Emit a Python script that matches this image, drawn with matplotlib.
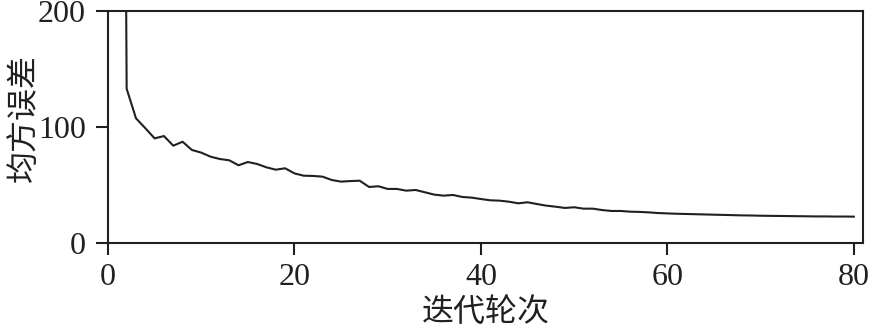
import matplotlib
matplotlib.use("Agg")
import matplotlib.pyplot as plt

# MSE per training epoch
epochs = list(range(1, 81))
mse = [
    1500.0, 133.0, 107.5, 99.0, 90.2, 92.2, 83.9, 87.3, 80.2, 77.9,
    74.4, 72.4, 71.3, 67.0, 69.8, 68.1, 65.2, 63.2, 64.4, 60.0,
    58.0, 57.8, 57.2, 54.3, 52.9, 53.4, 53.7, 48.3, 48.9, 46.6,
    46.6, 45.1, 45.7, 43.7, 41.7, 40.8, 41.4, 39.7, 39.1, 37.9,
    36.8, 36.5, 35.6, 34.2, 35.1, 33.6, 32.2, 31.3, 30.2, 30.8,
    29.6, 29.6, 28.4, 27.6, 27.6, 27.0, 26.8, 26.4, 25.8, 25.5,
    25.2, 25.0, 24.8, 24.6, 24.4, 24.2, 24.0, 23.8, 23.7, 23.5,
    23.4, 23.3, 23.2, 23.1, 23.0, 22.9, 22.9, 22.8, 22.8, 22.7,
]
xticks = [0, 20, 40, 60, 80]
yticks = [0, 100, 200]

ink = "#231f20"
fig = plt.figure(figsize=(8.71, 3.34), dpi=100)
ax = fig.add_axes([0.124, 0.2725, 0.867, 0.6945])

ax.plot(epochs, mse, color=ink, linewidth=1.5)
ax.set_xlim(0, 81)
ax.set_ylim(0, 200)
ax.set_xticks(xticks)
ax.set_yticks(yticks)

serif = ["Liberation Serif", "DejaVu Serif"]
cjk = ["Noto Sans CJK SC", "DejaVu Sans"]
for lab in ax.get_xticklabels() + ax.get_yticklabels():
    lab.set_family(serif)
    lab.set_fontsize(23)
    lab.set_color(ink)

ax.tick_params(direction="out", length=8.5, width=1.5, color=ink)
ax.tick_params(axis="x", pad=6)
ax.tick_params(axis="y", pad=7.5)
for s in ax.spines.values():
    s.set_linewidth(1.5)
    s.set_color(ink)

ax.set_xlabel("迭代轮次", family=cjk, fontsize=23, color=ink, labelpad=3)
ax.set_ylabel("均方误差", family=cjk, fontsize=23, color=ink)
ax.yaxis.set_label_coords(-0.09, 0.54)

fig.savefig("out.png", dpi=100)
